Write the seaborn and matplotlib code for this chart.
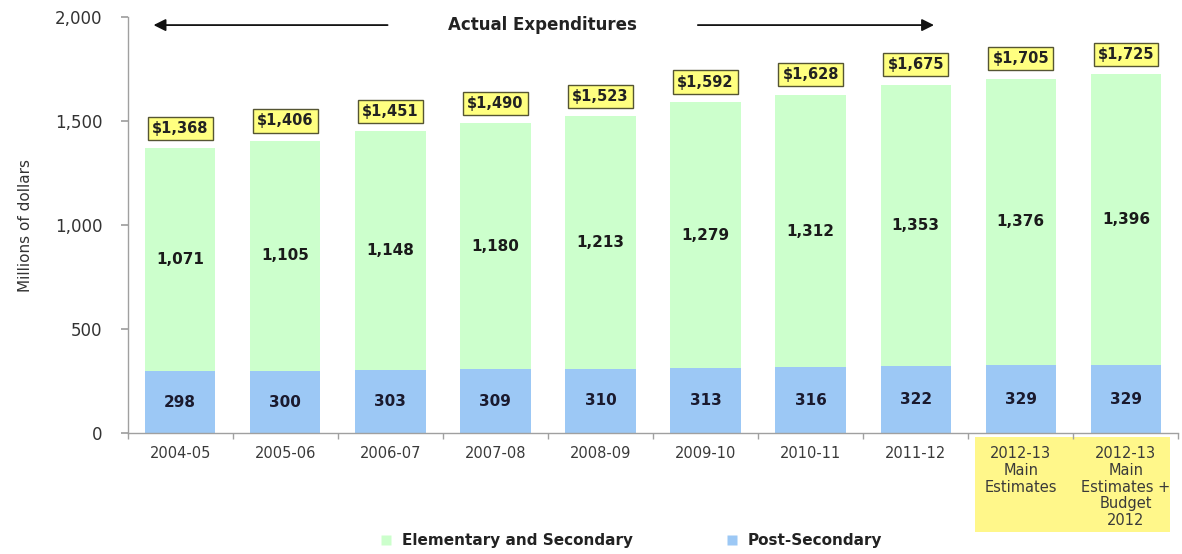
import matplotlib
matplotlib.use("Agg")
import matplotlib.pyplot as plt
import seaborn as sns
import pandas as pd
from matplotlib.patches import Rectangle
from matplotlib.lines import Line2D

categories = ["2004-05", "2005-06", "2006-07", "2007-08", "2008-09", "2009-10",
              "2010-11", "2011-12", "2012-13\nMain\nEstimates",
              "2012-13\nMain\nEstimates +\nBudget\n2012"]
elementary = [1071, 1105, 1148, 1180, 1213, 1279, 1312, 1353, 1376, 1396]
post_secondary = [298, 300, 303, 309, 310, 313, 316, 322, 329, 329]
totals = [1368, 1406, 1451, 1490, 1523, 1592, 1628, 1675, 1705, 1725]

GREEN = "#CCFFCC"
BLUE = "#9CC8F5"

sns.set_theme(style="white")
plt.rcParams["font.family"] = ["DejaVu Sans"]

df = pd.DataFrame({"cat": categories, "elem": elementary, "post": post_secondary,
                   "total": totals})
df["stack"] = df["elem"] + df["post"]

fig = plt.figure(figsize=(11.82, 5.54), dpi=100)
ax = fig.add_axes([0.108, 0.218, 0.889, 0.751])

sns.barplot(data=df, x="cat", y="stack", color=GREEN, width=0.67, ax=ax,
            saturation=1, edgecolor="none")
sns.barplot(data=df, x="cat", y="post", color=BLUE, width=0.67, ax=ax,
            saturation=1, edgecolor="none")

ax.set_ylim(0, 2000)
ax.set_xlim(-0.5, len(categories) - 0.5)
ax.set_yticks([0, 500, 1000, 1500, 2000])
ax.set_yticklabels(["0", "500", "1,000", "1,500", "2,000"], fontsize=12, color="#333333")
ax.set_xticks(range(len(categories)))
ax.set_xticklabels(categories, fontsize=10.5, color="#3A3A3A", linespacing=1.16)
ax.set_xlabel("")
ax.set_ylabel("Millions of dollars", fontsize=11, color="#333333", labelpad=16)

for s in ["top", "right"]:
    ax.spines[s].set_visible(False)
for s in ["left", "bottom"]:
    ax.spines[s].set_color("#A0A0A0")
    ax.spines[s].set_linewidth(1.0)
ax.tick_params(axis="y", which="major", left=True, length=5, color="#A0A0A0", pad=13)
ax.tick_params(axis="x", which="major", bottom=False, pad=3)
ax.set_xticks([i + 0.5 for i in range(-1, len(categories))], minor=True)
ax.tick_params(axis="x", which="minor", bottom=True, length=4, color="#A0A0A0")

# yellow highlight behind last two category labels
ax.add_patch(Rectangle((7.56, -0.238), 1.86, 0.228, transform=ax.get_xaxis_transform(),
                       facecolor="#FFF78A", edgecolor="none", clip_on=False, zorder=0))

# segment labels
for i in range(len(categories)):
    ax.text(i, post_secondary[i] / 2, f"{post_secondary[i]:,}", ha="center", va="center",
            fontsize=11, fontweight="bold", color="#1A1A2E")
    ax.text(i, post_secondary[i] + elementary[i] / 2, f"{elementary[i]:,}", ha="center",
            va="center", fontsize=11, fontweight="bold", color="#1A1A1A")
    ax.annotate(f"${totals[i]:,}", (i, post_secondary[i] + elementary[i]),
                xytext=(0, 9), textcoords="offset points", ha="center", va="bottom",
                fontsize=10.5, fontweight="bold", color="#222222",
                bbox=dict(boxstyle="square,pad=0.28", facecolor="#FFFF80",
                          edgecolor="#555533", linewidth=1.0))

# Actual expenditures arrows
ax.annotate("", xy=(-0.28, 1962), xytext=(2.0, 1962),
            arrowprops=dict(arrowstyle="-|>", color="#111111", lw=1.3, mutation_scale=18))
ax.annotate("", xy=(7.2, 1962), xytext=(4.9, 1962),
            arrowprops=dict(arrowstyle="-|>", color="#111111", lw=1.3, mutation_scale=18))
ax.text(3.45, 1962, "Actual Expenditures", ha="center", va="center", fontsize=12,
        fontweight="bold", color="#222222")

handles = [Line2D([0], [0], marker="s", linestyle="none", markersize=7,
                  markerfacecolor=GREEN, markeredgecolor="none"),
           Line2D([0], [0], marker="s", linestyle="none", markersize=7,
                  markerfacecolor=BLUE, markeredgecolor="none")]
leg = fig.legend(handles, ["Elementary and Secondary", "Post-Secondary"],
                 loc="center", bbox_to_anchor=(0.53, 0.024), ncol=2, frameon=False,
                 fontsize=11, handletextpad=0.0, columnspacing=5.5)
for t in leg.get_texts():
    t.set_fontweight("bold")
    t.set_color("#222222")

fig.savefig("out.png", dpi=100)
